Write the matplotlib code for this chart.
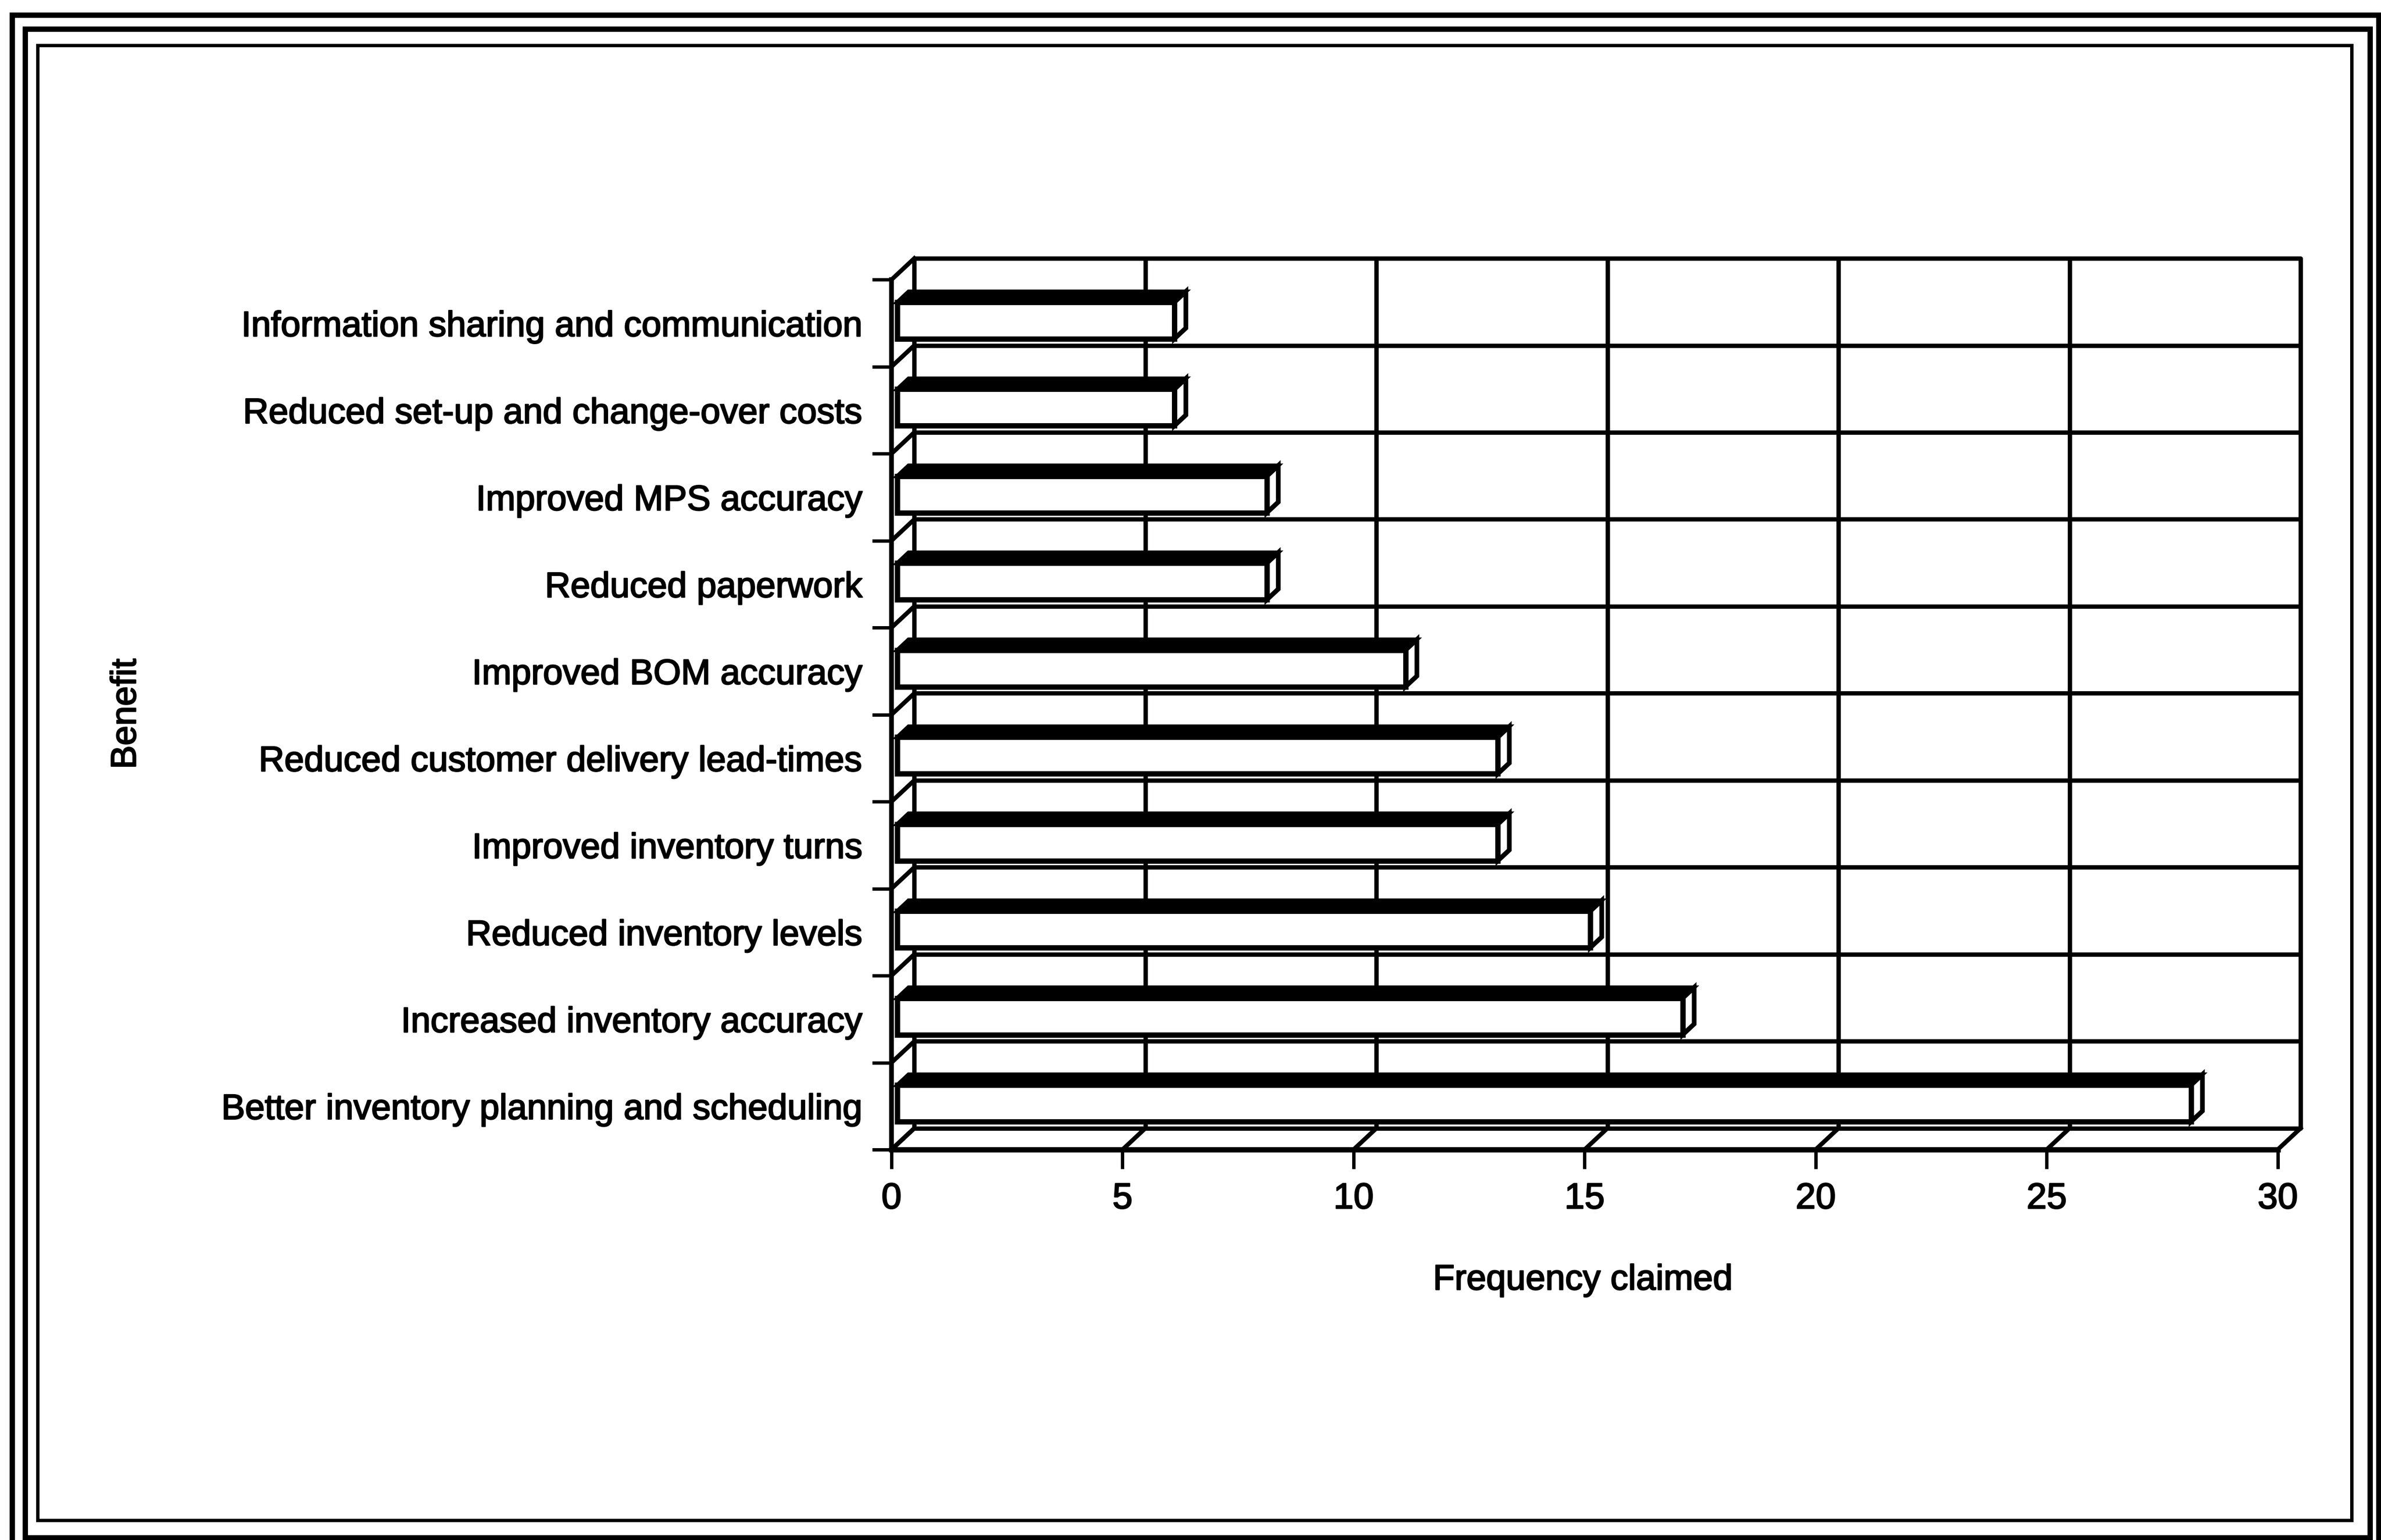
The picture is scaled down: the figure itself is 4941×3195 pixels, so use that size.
import matplotlib
matplotlib.use('Agg')
import matplotlib.pyplot as plt
import matplotlib.patheffects as pe
from matplotlib.patches import Polygon, Rectangle

plt.rcParams['font.family'] = ['Liberation Sans', 'DejaVu Sans']

# categories listed bottom to top
benefits = [
    'Better inventory planning and scheduling',
    'Increased inventory accuracy',
    'Reduced inventory levels',
    'Improved inventory turns',
    'Reduced customer delivery lead-times',
    'Improved BOM accuracy',
    'Reduced paperwork',
    'Improved MPS accuracy',
    'Reduced set-up and change-over costs',
    'Information sharing and communication',
]
frequency = [28, 17, 15, 13, 13, 11, 8, 8, 6, 6]
x_ticks = [0, 5, 10, 15, 20, 25, 30]

# 3-D look: offset of the back wall, in data units
DX, DY = 0.494, 0.245
BAR_FRONT, BAR_BACK = 0.25, 0.75   # bar depth inside the box
BAR_THICK = 0.42                   # bar thickness inside a category slot
BAR_LOW = 0.26                     # bottom of the bar inside its slot

W, H = 4941, 3195
fig = plt.figure(figsize=(W / 100, H / 100), dpi=100)
fig.patch.set_facecolor('white')

# heavier strokes on the text
ink = [pe.withStroke(linewidth=1.8, foreground='black')]


def frame(x0, y0, x1, y1, lw):
    fig.add_artist(Rectangle((x0 / W, 1 - y1 / H), (x1 - x0) / W, (y1 - y0) / H,
                             transform=fig.transFigure, fill=False,
                             edgecolor='black', linewidth=lw))


# page borders
frame(25, 31, 4936, 3202, 8)
frame(52, 60, 4918, 3190, 8)
frame(78, 94, 4880, 3154, 5)

ax = fig.add_axes([1850 / W, 1 - 2385 / H, 0.5918, 0.5787])
n = len(benefits)
xmax = x_ticks[-1]
ax.set_xlim(0, xmax + DX)
ax.set_ylim(0, n + DY)
ax.set_facecolor('none')

line_kw = dict(color='black', linewidth=6.5, clip_on=False, zorder=1,
               solid_capstyle='projecting')

# back wall
ax.plot([DX, xmax + DX, xmax + DX, DX, DX],
        [DY, DY, n + DY, n + DY, DY], **line_kw)
for v in x_ticks[1:-1]:
    ax.plot([v + DX, v + DX], [DY, n + DY], **line_kw)
for k in range(1, n):
    ax.plot([DX, xmax + DX], [k + DY, k + DY], **line_kw)

# left side wall
for k in range(0, n + 1):
    ax.plot([0, DX], [k, k + DY], **line_kw)

# floor
for v in x_ticks:
    ax.plot([v, v + DX], [0, DY], **line_kw)

# bars
fx, fy = BAR_FRONT * DX, BAR_FRONT * DY
bx, by = BAR_BACK * DX, BAR_BACK * DY
for i, value in enumerate(frequency):
    y0 = i + BAR_LOW
    y1 = y0 + BAR_THICK
    ax.barh(y0 + fy, value, height=BAR_THICK, left=fx, align='edge',
            facecolor='white', edgecolor='black', linewidth=8, zorder=4)
    top = Polygon([(fx, y1 + fy), (value + fx, y1 + fy),
                   (value + bx, y1 + by), (bx, y1 + by)],
                  closed=True, facecolor='black', edgecolor='black',
                  linewidth=6, zorder=3)
    side = Polygon([(value + fx, y0 + fy), (value + bx, y0 + by),
                    (value + bx, y1 + by), (value + fx, y1 + fy)],
                   closed=True, facecolor='white', edgecolor='black',
                   linewidth=7, zorder=3)
    ax.add_patch(top)
    ax.add_patch(side)

# axes: front floor edge and front left edge
for s in ['top', 'right']:
    ax.spines[s].set_visible(False)
ax.spines['bottom'].set_bounds(0, xmax)
ax.spines['left'].set_bounds(0, n)
ax.spines['bottom'].set_linewidth(8)
ax.spines['left'].set_linewidth(7)
ax.spines['bottom'].set_zorder(5)
ax.spines['left'].set_zorder(5)

ax.set_xticks(x_ticks)
ax.set_xticklabels([str(v) for v in x_ticks])
ax.tick_params(axis='x', direction='out', length=29, width=5, pad=20,
               labelsize=54)

ax.set_yticks(range(0, n + 1))
ax.set_yticklabels([''] * (n + 1))
ax.set_yticks([i + 0.5 for i in range(n)], minor=True)
ax.set_yticklabels(benefits, minor=True)
ax.tick_params(axis='y', which='major', direction='out', length=29, width=5)
ax.tick_params(axis='y', which='minor', length=0, pad=43, labelsize=53)

for lab in ax.get_xticklabels() + ax.get_yticklabels(minor=True):
    lab.set_path_effects(ink)

fig.text(3285 / W, 1 - 2656 / H, 'Frequency claimed', ha='center',
         va='center', fontsize=53, path_effects=ink)
fig.text(262 / W, 1 - 1481 / H, 'Benefit', ha='center', va='center',
         rotation=90, fontsize=53, path_effects=ink)

fig.savefig('out.png', dpi=100, facecolor='white')
